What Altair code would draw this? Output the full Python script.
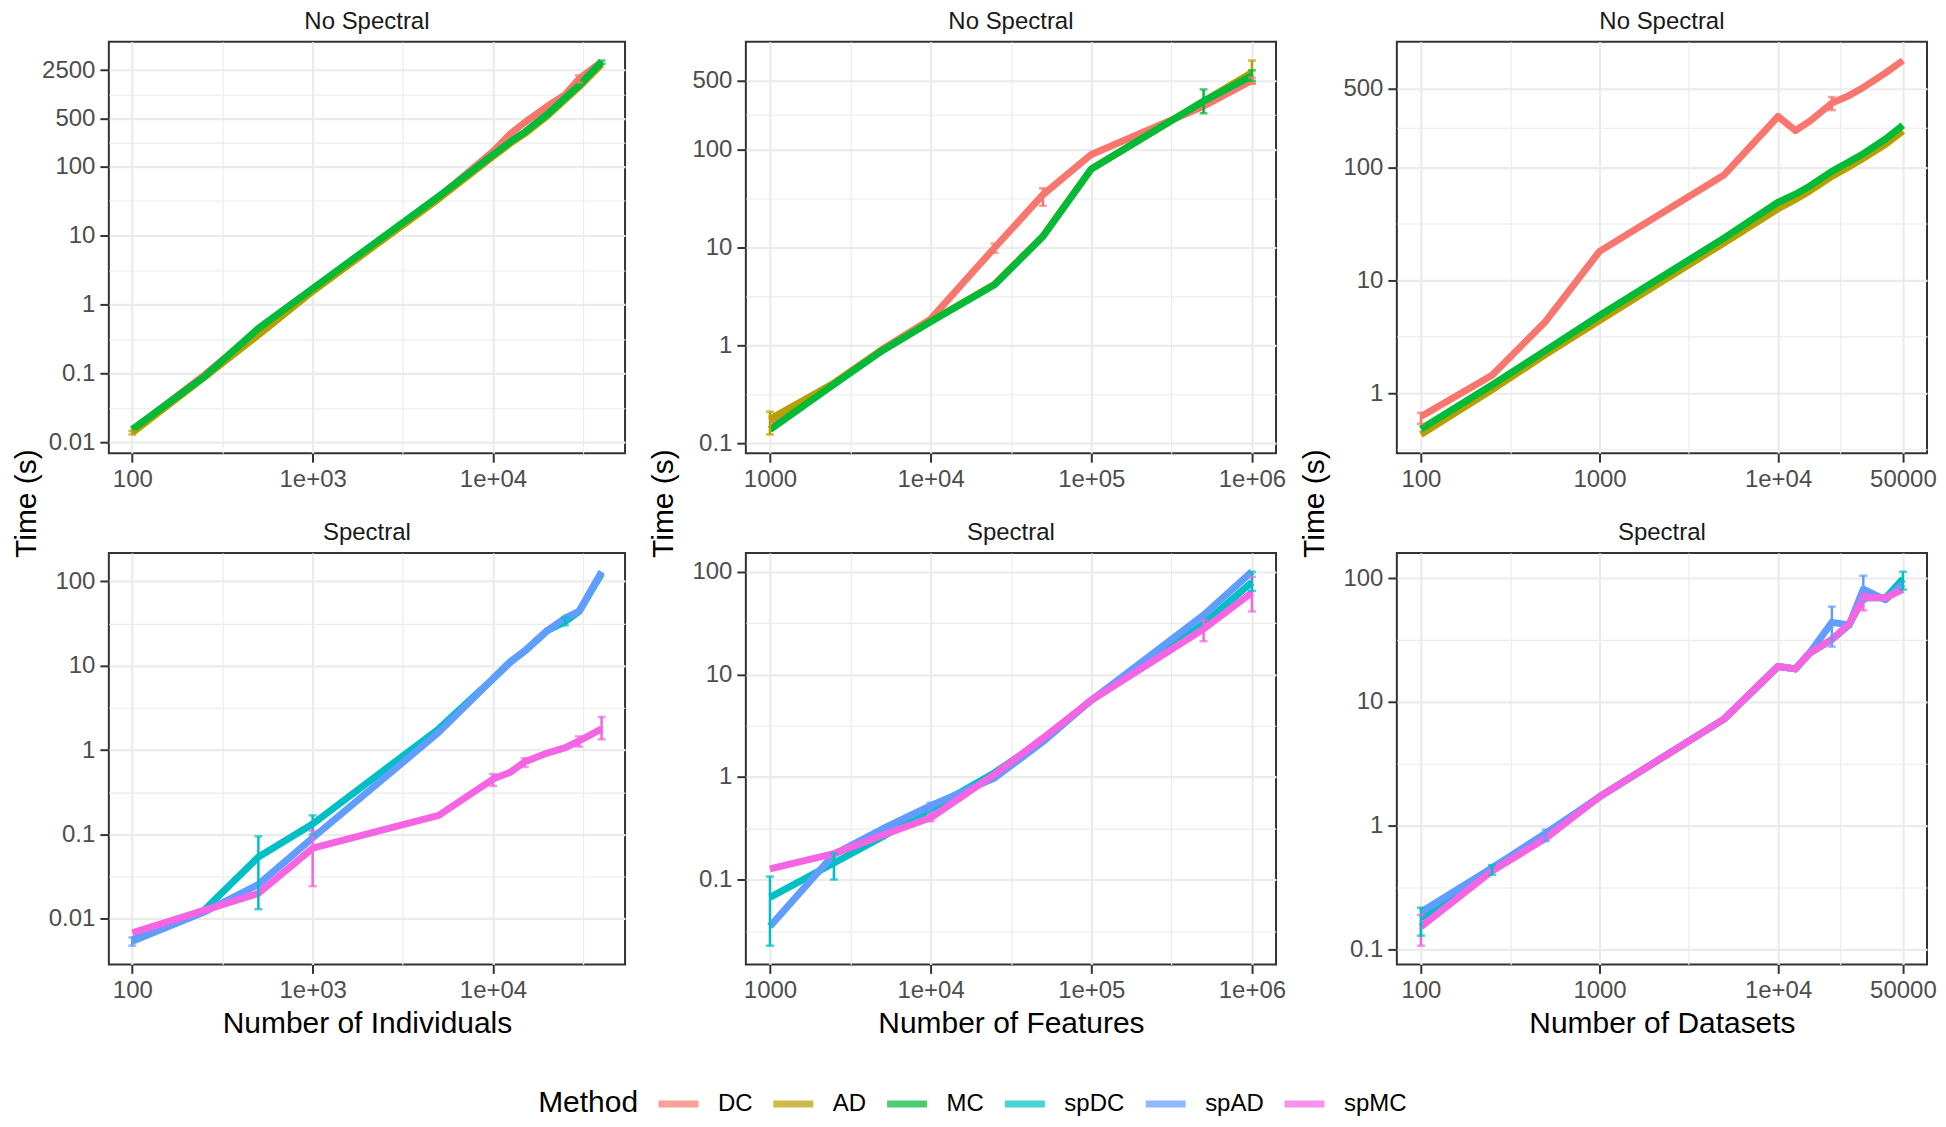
import altair as alt
import pandas as pd
import numpy as np

FONT = "Liberation Sans"
METHODS = ["DC", "AD", "MC", "spDC", "spAD", "spMC"]
COLORS = ["#F8766D", "#B79F00", "#00BA38", "#00BFC4", "#619CFF", "#F564E3"]

# ---------------- data ----------------
ind_x = [100, 250, 500, 1000, 5000, 10000, 12500, 15000, 20000, 25000, 30000, 40000]
feat_x = [1000, 2500, 5000, 10000, 25000, 50000, 100000, 500000, 1000000]
ds_x = [100, 250, 500, 1000, 5000, 10000, 12500, 15000, 20000, 25000, 30000, 40000, 50000]

ind_DC = [0.0150, 0.094, 0.42, 1.65, 36, 165, 300, 437, 748, 1090, 1870, 3300]
ind_AD = [0.0138, 0.087, 0.36, 1.55, 34, 140, 218, 300, 542, 927, 1427, 3030]
ind_MC = [0.0154, 0.089, 0.45, 1.70, 37, 148, 229, 316, 571, 980, 1506, 3300]

feat_DC = [0.169, 0.41, 0.91, 1.85, 9.9, 34.4, 88.6, 275, 505]
feat_AD = [0.177, 0.41, 0.89, 1.76, 4.2, 13.0, 63, 310, 609]
feat_MC = [0.138, 0.40, 0.88, 1.74, 4.14, 12.9, 63, 309, 565]

ds_DC = [0.62, 1.44, 4.33, 18, 86, 282, 212, 255, 370, 433, 510, 687, 883]
ds_AD = [0.43, 1.07, 2.2, 4.4, 21.5, 43, 52, 61.5, 83, 101, 120, 160, 210]
ds_MC = [0.48, 1.18, 2.39, 4.87, 23.7, 49, 57.8, 68, 92, 112, 132, 178, 236]

ind_spDC = [0.0056, 0.0126, 0.054, 0.133, 1.78, 7.0, 11.2, 14.9, 26, 33, 44, 124]
ind_spAD = [0.0054, 0.0120, 0.0255, 0.091, 1.62, 7.0, 11.0, 15.0, 26, 36.5, 44, 130]
ind_spMC = [0.0068, 0.0126, 0.020, 0.0686, 0.168, 0.453, 0.547, 0.726, 0.92, 1.06, 1.28, 1.78]

feat_spDC = [0.067, 0.145, 0.26, 0.485, 1.10, 2.30, 5.6, 31.0, 79]
feat_spAD = [0.035, 0.176, 0.311, 0.525, 0.977, 2.20, 5.6, 37.8, 100]
feat_spMC = [0.127, 0.179, 0.27, 0.40, 1.06, 2.39, 5.6, 27.7, 62.7]

ds_spDC = [0.179, 0.455, 0.84, 1.71, 7.3, 19.4, 18.5, 24.8, 32, 42, 69.5, 69.5, 99]
ds_spAD = [0.200, 0.455, 0.87, 1.71, 7.3, 19.4, 18.5, 24.8, 44, 42, 81.5, 67, 90]
ds_spMC = [0.152, 0.430, 0.79, 1.71, 7.3, 19.4, 18.5, 24.8, 32, 42.8, 69.5, 69.5, 81.5]

# error bars: (method, x, low, high)
ind_ns_err = [("DC", 30000, 1650, 2100), ("AD", 100, 0.0130, 0.0146), ("MC", 40000, 3100, 3450)]
feat_ns_err = [("AD", 1000, 0.123, 0.21), ("AD", 1000000, 468, 805), ("MC", 500000, 233, 408),
               ("DC", 50000, 26.5, 40), ("DC", 25000, 8.8, 10.9), ("MC", 1000000, 500, 640),
               ("DC", 1000000, 470, 540)]
ds_ns_err = [("DC", 100, 0.535, 0.67), ("DC", 20000, 321, 419)]
ind_sp_err = [("spDC", 500, 0.013, 0.095), ("spDC", 1000, 0.10, 0.168), ("spMC", 1000, 0.0244, 0.11),
              ("spMC", 10000, 0.375, 0.52), ("spMC", 15000, 0.63, 0.80), ("spMC", 30000, 1.10, 1.45),
              ("spMC", 40000, 1.34, 2.47), ("spAD", 100, 0.0048, 0.0060), ("spDC", 25000, 30, 37)]
feat_sp_err = [("spDC", 1000, 0.0227, 0.107), ("spDC", 2500, 0.10, 0.18), ("spMC", 500000, 21, 33.6),
               ("spMC", 1000000, 41, 89), ("spDC", 1000000, 65, 100), ("spAD", 10000, 0.47, 0.56),
               ("spMC", 10000, 0.37, 0.44)]
ds_sp_err = [("spMC", 100, 0.107, 0.19), ("spDC", 100, 0.129, 0.217), ("spAD", 500, 0.75, 0.93),
             ("spAD", 20000, 28, 59), ("spAD", 30000, 65, 105), ("spMC", 30000, 55, 75),
             ("spDC", 50000, 81, 113), ("spDC", 250, 0.40, 0.48)]

# axis breaks and labels
ind_ticks = [100, 1000, 10000]
ind_labels = ["100", "1e+03", "1e+04"]
ind_minor = [316.2, 3162, 31623]
feat_ticks = [1000, 10000, 100000, 1000000]
feat_labels = ["1000", "1e+04", "1e+05", "1e+06"]
feat_minor = [3162, 31623, 316228]
ds_ticks = [100, 1000, 10000, 50000]
ds_labels = ["100", "1000", "1e+04", "50000"]
ds_minor = [316.2, 3162, 22361]

y1_ticks = [0.01, 0.1, 1, 10, 100, 500, 2500]
y1_labels = ["0.01", "0.1", "1", "10", "100", "500", "2500"]
y1_minor = [0.0316, 0.316, 3.16, 31.6, 223.6, 1118]
y2_ticks = [0.1, 1, 10, 100, 500]
y2_labels = ["0.1", "1", "10", "100", "500"]
y2_minor = [0.316, 3.16, 31.6, 223.6]
y3_ticks = [1, 10, 100, 500]
y3_labels = ["1", "10", "100", "500"]
y3_minor = [0.316, 3.16, 31.6, 223.6]
y4_ticks = [0.01, 0.1, 1, 10, 100]
y4_labels = ["0.01", "0.1", "1", "10", "100"]
y4_minor = [0.0316, 0.316, 3.16, 31.6]
y5_ticks = [0.1, 1, 10, 100]
y5_labels = ["0.1", "1", "10", "100"]
y5_minor = [0.0316, 0.316, 3.16, 31.6]
y6_ticks = [0.1, 1, 10, 100]
y6_labels = ["0.1", "1", "10", "100"]
y6_minor = [0.316, 3.16, 31.6]

# ---------------- helpers ----------------
color_scale = alt.Scale(domain=METHODS, range=COLORS)
legend = alt.Legend(
    title="Method", orient="none", direction="horizontal",
    legendX=430, legendY=1040, titleOrient="left",
    titleFont=FONT, titleFontSize=30, titleFontWeight="normal", titleColor="black",
    titleBaseline="bottom", titleAnchor="end", titlePadding=16,
    labelFont=FONT, labelFontSize=24, labelColor="black", labelOffset=16,
    columnPadding=6, symbolType="stroke", symbolSize=1600, symbolStrokeWidth=7,
)
C = alt.Color("method:N", scale=color_scale, legend=legend, title="Method")


def log_domain(vals):
    lo, hi = np.log10(min(vals)), np.log10(max(vals))
    pad = 0.05 * (hi - lo)
    return [float(10 ** (lo - pad)), float(10 ** (hi + pad))]


def make_axis(major, labels, minor, dom, title=None, **kw):
    minor = [m for m in minor if dom[0] <= m <= dom[1]]
    vals = list(major) + minor
    test = " || ".join(f"datum.value == {v}" for v in major)
    lab = "''"
    for v, l in reversed(list(zip(major, labels))):
        lab = f"(datum.value == {v} ? '{l}' : {lab})"
    return alt.Axis(
        values=vals, labelExpr=lab, title=title,
        gridWidth={"condition": {"test": test, "value": 2.2}, "value": 1.1},
        tickOpacity={"condition": {"test": test, "value": 1}, "value": 0},
        **kw,
    )


H = 412
GAP = 100


def panel(strip, xs, series, errs, xt, xl, xm, yt, yl, ym, w, h, xtitle, ytitle):
    rows = []
    for m, ys in series:
        for x, y in zip(xs, ys):
            rows.append({"method": m, "x": x, "y": y})
    df = pd.DataFrame(rows)
    edf = pd.DataFrame(errs, columns=["method", "x", "lo", "hi"])
    xdom = log_domain(xs)
    yvals = list(df["y"]) + list(edf["lo"]) + list(edf["hi"])
    ydom = log_domain(yvals)
    xscale = alt.Scale(type="log", domain=xdom, nice=False)
    yscale = alt.Scale(type="log", domain=ydom, nice=False)
    xaxis = make_axis(xt, xl, xm, xdom, title=xtitle, titlePadding=6)
    if ytitle:
        yaxis = make_axis(yt, yl, ym, ydom, title=ytitle, titleX=-67, titleY=h + GAP / 2,
                          titleAlign="center", titleAngle=270)
    else:
        yaxis = make_axis(yt, yl, ym, ydom, title=None)
    X = alt.X("x:Q", scale=xscale, axis=xaxis)
    layers = []
    for m, _ in series:
        d = df[df["method"] == m]
        layers.append(
            alt.Chart(d).mark_line(strokeWidth=7, strokeJoin="round", clip=True).encode(
                x=X, y=alt.Y("y:Q", scale=yscale, axis=yaxis), color=C)
        )
    layers.append(
        alt.Chart(edf).mark_rule(strokeWidth=2.5).encode(
            x=X, y=alt.Y("lo:Q", scale=yscale, axis=yaxis), y2="hi:Q", color=C)
    )
    for f in ["lo", "hi"]:
        layers.append(
            alt.Chart(edf).mark_tick(orient="horizontal", size=8, thickness=2.5).encode(
                x=X, y=alt.Y(f"{f}:Q", scale=yscale, axis=yaxis), color=C)
        )
    return alt.layer(*layers).properties(
        width=w, height=h,
        title=alt.TitleParams(strip, font=FONT, fontSize=24, fontWeight="normal",
                              color="#1A1A1A", offset=8, anchor="middle"),
    )


W1, W2, W3 = 517, 531, 531

p1 = panel("No Spectral", ind_x, [("DC", ind_DC), ("AD", ind_AD), ("MC", ind_MC)], ind_ns_err,
           ind_ticks, ind_labels, ind_minor, y1_ticks, y1_labels, y1_minor, W1, H, None, "Time (s)")
p2 = panel("No Spectral", feat_x, [("DC", feat_DC), ("AD", feat_AD), ("MC", feat_MC)], feat_ns_err,
           feat_ticks, feat_labels, feat_minor, y2_ticks, y2_labels, y2_minor, W2, H, None, "Time (s)")
p3 = panel("No Spectral", ds_x, [("DC", ds_DC), ("AD", ds_AD), ("MC", ds_MC)], ds_ns_err,
           ds_ticks, ds_labels, ds_minor, y3_ticks, y3_labels, y3_minor, W3, H, None, "Time (s)")
p4 = panel("Spectral", ind_x, [("spDC", ind_spDC), ("spAD", ind_spAD), ("spMC", ind_spMC)], ind_sp_err,
           ind_ticks, ind_labels, ind_minor, y4_ticks, y4_labels, y4_minor, W1, H,
           "Number of Individuals", None)
p5 = panel("Spectral", feat_x, [("spDC", feat_spDC), ("spAD", feat_spAD), ("spMC", feat_spMC)], feat_sp_err,
           feat_ticks, feat_labels, feat_minor, y5_ticks, y5_labels, y5_minor, W2, H,
           "Number of Features", None)
p6 = panel("Spectral", ds_x, [("spDC", ds_spDC), ("spAD", ds_spAD), ("spMC", ds_spMC)], ds_sp_err,
           ds_ticks, ds_labels, ds_minor, y6_ticks, y6_labels, y6_minor, W3, H,
           "Number of Datasets", None)

chart = alt.concat(
    p1, p2, p3, p4, p5, p6, columns=3,
    spacing={"row": GAP, "column": 121}, bounds="flush", align="each",
).properties(
    padding={"left": 3, "top": 0, "right": 0, "bottom": 0}, background="white"
).configure_view(
    stroke="#333333", strokeWidth=2
).configure_axis(
    labelFont=FONT, labelFontSize=24, labelColor="#4D4D4D", labelPadding=5,
    labelOverlap=False, labelFlush=False, labelBound=False,
    tickColor="#333333", tickWidth=2, tickSize=9, domain=False,
    gridColor="#EBEBEB",
    titleFont=FONT, titleFontSize=30, titleFontWeight="normal", titleColor="black",
)

chart.save("out.html", embed_options={"renderer": "svg", "actions": False})
